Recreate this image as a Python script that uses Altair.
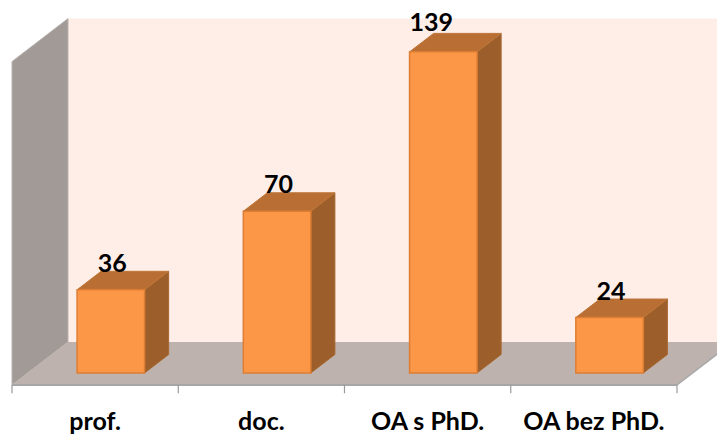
import altair as alt
import pandas as pd

categories = ["prof.", "doc.", "OA s PhD.", "OA bez PhD."]
values = [36, 70, 139, 24]
value_max = 140

W, H = 709, 429       # plot box
CAT = 166.25          # pixels per category
UNIT = 2.31           # pixels per value unit
X0 = 4                # pixels from plot left to the first category
Y0 = 377              # pixels from plot top to value zero

# projection of the depth axis onto the plot, in data units
DX = 56 / CAT
DY = 43 / UNIT
D0, D1 = 0.28, 0.71   # depth span of a bar
GAP = 0.297           # side gap of a bar within its category

xs = alt.Scale(domain=[-X0 / CAT, (W - X0) / CAT], nice=False, zero=False)
ys = alt.Scale(domain=[-(H - Y0) / UNIT, Y0 / UNIT], nice=False, zero=False)


def X(f="x"):
    return alt.X(f, type="quantitative", scale=xs, axis=None)


def Y(f="y"):
    return alt.Y(f, type="quantitative", scale=ys, axis=None)


def px(c, d):
    return c + d * DX


def py(v, d):
    return v + d * DY


back = pd.DataFrame([{"x": px(0, 1), "x2": px(4.2, 1), "y": py(value_max, 1), "y2": py(0, 1)}])
back_l = alt.Chart(back).mark_rect(color="#FEEEE7", clip=True).encode(
    X(), x2="x2", y=Y(), y2="y2")

wall = pd.DataFrame([{"x": px(0, d), "y": py(value_max, d), "y2": py(0, d)} for d in (0, 1)])
wall_l = alt.Chart(wall).mark_area(color="#A29A97", clip=True, stroke="#B8B2AF", strokeWidth=1).encode(
    X(), y=Y(), y2="y2")

floor = pd.DataFrame([{"y": py(0, d), "x": px(0, d), "x2": px(4, d)} for d in (0, 1)])
floor_l = alt.Chart(floor).mark_area(color="#BDB2AE", orient="horizontal", clip=True).encode(
    y=Y(), x=X(), x2="x2")

edge = pd.DataFrame([{"x": px(4, d), "y": py(0, d)} for d in (0, 1)])
edge_l = alt.Chart(edge).mark_line(color="#A8A8A8", strokeWidth=1.5, clip=True).encode(X(), y=Y())

axis_line = pd.DataFrame([{"x": 0, "x2": 4, "y": 0}])
axis_l = alt.Chart(axis_line).mark_rule(color="#A6A6A6", strokeWidth=2).encode(
    X(), x2="x2", y=Y())

ticks = pd.DataFrame([{"x": c, "y": 0, "y2": -3.6} for c in range(5)])
ticks_l = alt.Chart(ticks).mark_rule(color="#9A9A9A", strokeWidth=1.2).encode(X(), y=Y(), y2="y2")

side_rows, top_rows, front_rows, label_rows, cat_rows = [], [], [], [], []
for i, (name, v) in enumerate(zip(categories, values)):
    l, r = i + GAP, i + 1 - GAP
    for d in (D0, D1):
        side_rows.append({"cat": name, "x": px(r, d), "y": py(v, d), "y2": py(0, d)})
        top_rows.append({"cat": name, "y": py(v, d), "x": px(l, d), "x2": px(r, d)})
    front_rows.append({"cat": name, "x": px(l, D0), "x2": px(r, D0), "y": py(v, D0), "y2": py(0, D0)})
    nudge = -12 / CAT if v == max(values) else 1.5 / CAT
    rise = 21 if v == max(values) else 18
    label_rows.append({"x": px((l + r) / 2, D0) + nudge, "y": py(v, D0) + rise / UNIT, "t": str(v)})
    cat_rows.append({"x": i + 0.5, "y": -45 / UNIT, "t": name})

side_l = alt.Chart(pd.DataFrame(side_rows)).mark_area(
    color="#9C5F2B", stroke="#A8672F", strokeWidth=1).encode(X(), y=Y(), y2="y2", detail="cat:N")
top_l = alt.Chart(pd.DataFrame(top_rows)).mark_area(
    color="#B96F33", stroke="#BE7538", strokeWidth=1, orient="horizontal").encode(
    y=Y(), x=X(), x2="x2", detail="cat:N")
front_l = alt.Chart(pd.DataFrame(front_rows)).mark_rect(
    color="#FB9746", stroke="#DE7E34", strokeWidth=1.5).encode(X(), x2="x2", y=Y(), y2="y2")

labels_l = alt.Chart(pd.DataFrame(label_rows)).mark_text(
    font="Lato", fontWeight="bold", fontSize=25, color="#000000", align="center", baseline="alphabetic"
).encode(X(), y=Y(), text="t:N")
cats_l = alt.Chart(pd.DataFrame(cat_rows)).mark_text(
    font="Lato", fontWeight="bold", fontSize=25, color="#000000", align="center", baseline="alphabetic"
).encode(X(), y=Y(), text="t:N")

chart = alt.layer(
    back_l, wall_l, floor_l, edge_l, axis_l, ticks_l, side_l, top_l, front_l, labels_l, cats_l
).properties(width=W, height=H, padding=0, background="#FFFFFF").configure_view(stroke=None)

chart.save("out.html", embed_options={"renderer": "svg", "actions": False})
